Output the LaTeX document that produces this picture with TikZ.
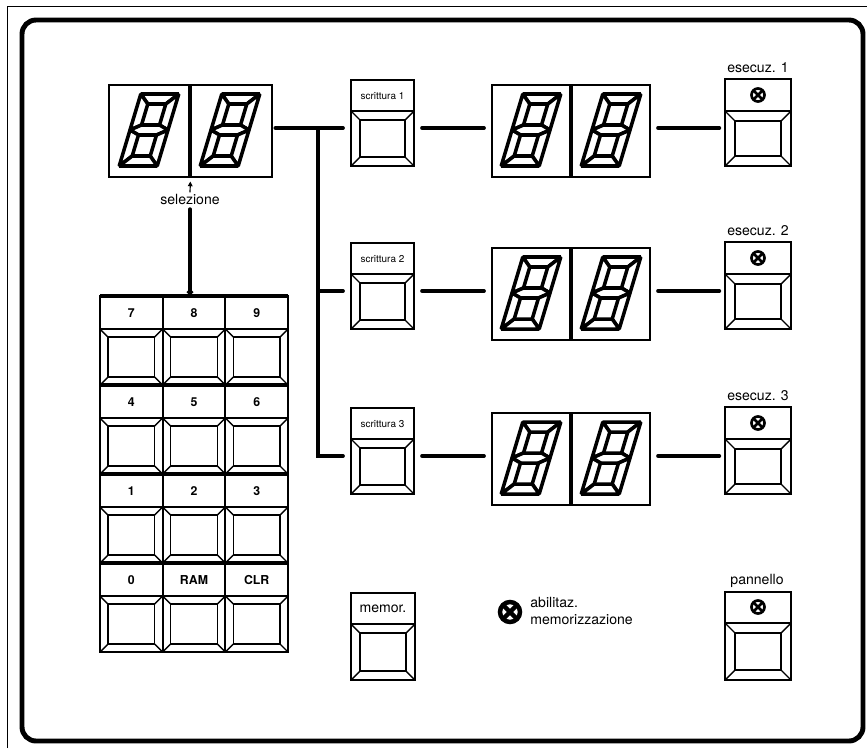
\documentclass[tikz,border=0pt]{standalone}
\usepackage{fontspec}
\setmainfont{TeX Gyre Heros}
\usetikzlibrary{arrows.meta,fit}
\tikzset{
  panel/.style={line width=4.2pt,rounded corners=12pt},
  box/.style={draw,line width=1.7pt,inner sep=0pt},
  divline/.style={line width=1.7pt},
  thickdiv/.style={line width=2.8pt},
  bev/.style={line width=1.2pt},
  seg/.style={draw,fill=white,line width=3pt,line join=miter,miter limit=1.6},
  wire/.style={line width=3.2pt,line cap=round},
  lbl/.style={font=\fontsize{12}{14}\selectfont,inner sep=1pt},
  tinylbl/.style={font=\fontsize{8.5}{10}\selectfont,inner sep=1pt},
  keynum/.style={font=\fontsize{10.5}{12}\selectfont\bfseries,inner sep=1pt},
}
% bevelled key face: x1 y1 x2 y2 inset
\newcommand{\keyface}[5]{%
  \draw[bev] (#1+#5,#2+#5) rectangle (#3-#5,#4-#5);
  \draw[bev] (#1,#2) -- (#1+#5,#2+#5) (#3,#2) -- (#3-#5,#2+#5)
    (#1,#4) -- (#1+#5,#4-#5) (#3,#4) -- (#3-#5,#4-#5);}
% seven segment digit showing 8
\newcommand{\segdigit}[2]{%
  \begin{scope}[shift={(#1,#2)},xslant=0.3]
    \draw[seg] (-19,-36) -- (19,-36) -- (9,-26) -- (-9,-26) -- cycle;
    \draw[seg] (-19,-36) -- (-9,-26) -- (-9,-5) -- (-19,0) -- cycle;
    \draw[seg] (19,-36) -- (19,0) -- (9,-5) -- (9,-26) -- cycle;
    \draw[seg] (-19,0) -- (-9,-5) -- (9,-5) -- (19,0) -- (9,5) -- (-9,5) -- cycle;
    \draw[seg] (-19,0) -- (-9,5) -- (-9,26) -- (-19,36) -- cycle;
    \draw[seg] (19,0) -- (19,36) -- (9,26) -- (9,5) -- cycle;
    \draw[seg] (-19,36) -- (-9,26) -- (9,26) -- (19,36) -- cycle;
  \end{scope}}
% lamp symbol: x y radius width
\newcommand{\lamp}[4]{%
  \draw[line width=#4] (#1,#2) circle (#3);
  \draw[line width=#4] ([shift={(45:#3)}]#1,#2) -- ([shift={(225:#3)}]#1,#2)
    ([shift={(135:#3)}]#1,#2) -- ([shift={(315:#3)}]#1,#2);}

\begin{document}
\begin{tikzpicture}[x=0.03cm,y=-0.03cm]
  \useasboundingbox (0,0) rectangle (867,748);
  \draw[line width=0.6pt] (7,748) -- (7,6) -- (867,6);
  \draw[panel] (22,20) rectangle (863,741);

  % selection display
  \node[box,fit={(109,85) (272,177)}] (seldisp) {};
  \draw[thickdiv] (190,85) -- (190,177);
  \segdigit{149}{130} \segdigit{230}{130}
  \node[lbl] (sellbl) at (190,199) {selezione};
  \draw[line width=1pt,-{Triangle[length=4pt,width=4pt]},shorten >=3pt] (sellbl.north) -- (seldisp.south);

  % keypad
  \node[box,fit={(100,296) (288,652)}] (keypad) {};
  \draw[wire,-{Circle[length=5pt]},shorten <=3pt] (sellbl.south) -- (sellbl.south |- keypad.north);
  \foreach \c in {1,2} \draw[divline] (100+62.67*\c,296) -- (100+62.67*\c,652);
  \foreach \r/\la/\lb/\lc in {0/7/8/9,1/4/5/6,2/1/2/3,3/0/RAM/CLR}{
    \pgfmathsetmacro\ky{296+89*\r}
    \draw[thickdiv] (100,\ky) -- (288,\ky);
    \draw[divline] (100,\ky+33) -- (288,\ky+33);
    \foreach \c in {0,1,2} \keyface{100+62.67*\c}{\ky+33}{162.67+62.67*\c}{\ky+89}{8};
    \node[keynum] (lab\r-1) at (131.3,\ky+17) {\la};
    \node[keynum] (lab\r-2) at (194,\ky+17) {\lb};
    \node[keynum] (lab\r-3) at (256.7,\ky+17) {\lc};
  }

  % three channels
  \foreach \i/\yr in {1/128,2/291,3/456}{
    \node[box,fit={(351,\yr-48) (414,\yr+38)}] (scr\i) {};
    \draw[divline] (351,\yr-17) -- (414,\yr-17);
    \node[tinylbl] (scrlbl\i) at (382.5,\yr-32) {scrittura \i};
    \keyface{351}{\yr-17}{414}{\yr+38}{9}
    \node[box,fit={(492,\yr-43) (650,\yr+49)}] (disp\i) {};
    \draw[thickdiv] (571,\yr-43) -- (571,\yr+49);
    \segdigit{531}{\yr+2} \segdigit{611}{\yr+2}
    \node[box,fit={(725,\yr-49) (791,\yr+38)}] (ese\i) {};
    \draw[divline] (725,\yr-17) -- (791,\yr-17);
    \lamp{758}{\yr-33}{6.5}{2.3pt}
    \keyface{725}{\yr-17}{791}{\yr+38}{10}
    \node[lbl] (eselbl\i) at (758,\yr-60) {esecuz. \i};
    \coordinate (bus\i) at (318,\yr);
    \draw[wire,shorten <=6pt,shorten >=6pt] (scr\i.east |- bus\i) -- (disp\i.west |- bus\i);
    \draw[wire,shorten <=6pt,shorten >=4pt] (disp\i.east |- bus\i) -- (ese\i.west |- bus\i);
  }
  \draw[wire,shorten <=2pt,shorten >=6pt] (seldisp.east |- bus1) -- (scr1.west |- bus1);
  \draw[wire,shorten >=6pt] (bus1) -- (bus3) -- (scr3.west |- bus3);
  \draw[wire,shorten >=6pt] (bus2) -- (scr2.west |- bus2);

  % store key, enable lamp, panel key
  \node[box,fit={(351,593) (415,680)}] (memor) {};
  \draw[divline] (351,624) -- (415,624);
  \node[lbl] (memlbl) at (383,609) {memor.};
  \keyface{351}{624}{415}{680}{9}
  \lamp{510}{612}{10}{3.8pt}
  \node[lbl,anchor=west,align=left] (abil) at (529,611) {abilitaz.\\memorizzazione};
  \node[box,fit={(725,592) (791,680)}] (pann) {};
  \draw[divline] (725,623) -- (791,623);
  \lamp{758}{607}{6.5}{2.3pt}
  \keyface{725}{623}{791}{680}{10}
  \node[lbl] (pannlbl) at (757,581) {pannello};
\end{tikzpicture}
\end{document}
